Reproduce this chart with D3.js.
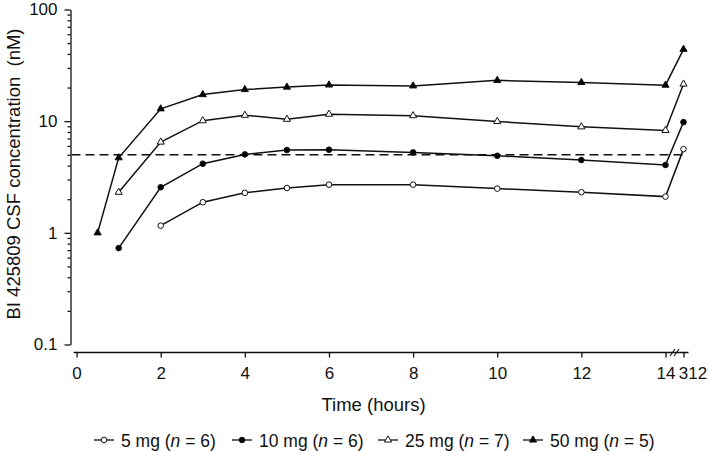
<!DOCTYPE html>
<html>
<head>
<meta charset="utf-8">
<script src="https://cdn.jsdelivr.net/npm/d3@7"></script>
<style>
  html, body { margin: 0; padding: 0; background: #fff; }
  svg { display: block; font-family: "Liberation Sans", Arial, sans-serif; }
</style>
</head>
<body>
<svg id="chart" width="709" height="451"></svg>
<script>
// ---- data ----
const xTickValues = [0, 2, 4, 6, 8, 10, 12, 14, 312];
const yTickValues = [0.1, 1, 10, 100];
const yTickLabels = ["0.1", "1", "10", "100"];
const threshold = 5;

const times5  = [2, 3, 4, 5, 6, 8, 10, 12, 14, 312];
const conc5   = [1.16, 1.88, 2.28, 2.52, 2.70, 2.70, 2.49, 2.31, 2.11, 5.62];
const times10 = [1, 2, 3, 4, 5, 6, 8, 10, 12, 14, 312];
const conc10  = [0.73, 2.56, 4.16, 5.04, 5.51, 5.55, 5.25, 4.90, 4.49, 4.05, 9.8];
const times25 = [1, 2, 3, 4, 5, 6, 8, 10, 12, 14, 312];
const conc25  = [2.31, 6.5, 10.1, 11.3, 10.4, 11.55, 11.2, 9.94, 8.9, 8.26, 21.5];
const times50 = [0.5, 1, 2, 3, 4, 5, 6, 8, 10, 12, 14, 312];
const conc50  = [1.0, 4.7, 12.9, 17.3, 19.2, 20.2, 21.1, 20.7, 23.2, 22.2, 21.0, 44];

const seriesNames = ["5 mg", "10 mg", "25 mg", "50 mg"];
const seriesN = [6, 6, 7, 5];

const series = [
  { name: seriesNames[0], n: seriesN[0], t: times5,  v: conc5,  shape: "circle",   fill: "#fff" },
  { name: seriesNames[1], n: seriesN[1], t: times10, v: conc10, shape: "circle",   fill: "#000" },
  { name: seriesNames[2], n: seriesN[2], t: times25, v: conc25, shape: "triangle", fill: "#fff" },
  { name: seriesNames[3], n: seriesN[3], t: times50, v: conc50, shape: "triangle", fill: "#000" }
];

// ---- scales ----
const svg = d3.select("#chart");
const x = d3.scaleLinear().domain([0, 14, 312]).range([76.6, 665.5, 683.5]);
const y = d3.scaleLog().domain([0.1, 100]).range([344.5, 9.5]);
const yAxisX = 70.5, xAxisY = 352.5;
const ink = "#111";

// ---- y axis ----
const minorTicks = [];
[0.1, 1, 10].forEach(d => { for (let k = 2; k <= 9; k++) minorTicks.push(+(d * k).toPrecision(3)); });

const yMinor = svg.append("g").attr("transform", `translate(${yAxisX},0)`)
  .call(d3.axisLeft(y).tickValues(minorTicks).tickSize(3).tickFormat(""));
yMinor.select(".domain").remove();

const yAx = svg.append("g").attr("transform", `translate(${yAxisX},0)`)
  .call(d3.axisLeft(y).tickValues(yTickValues).tickSize(6).tickSizeOuter(0)
        .tickFormat((d, i) => yTickLabels[i]));
yAx.selectAll("text").attr("font-size", 17).attr("fill", ink).attr("x", -13);
svg.selectAll("g .domain, g .tick line").attr("stroke", ink).attr("stroke-width", 1.3);

// ---- x axis ----
const xAx = svg.append("g").attr("transform", `translate(0,${xAxisY})`)
  .call(d3.axisBottom(x).tickValues(xTickValues).tickSize(5).tickSizeOuter(0).tickFormat(d3.format("d")));
xAx.select(".domain").remove();
xAx.append("line").attr("x1", x(0) - 3).attr("x2", x(312) + 5).attr("y1", 0).attr("y2", 0)
  .attr("stroke", ink).attr("stroke-width", 1.3);
xAx.selectAll(".tick line").attr("stroke", ink).attr("stroke-width", 1.3);
xAx.selectAll(".tick text").attr("font-size", 17).attr("fill", ink).attr("y", 26).attr("dy", null)
  .attr("dx", d => d === 312 ? 9 : 0);

// axis break marks
const bx = (x(14) + x(312)) / 2;
[-2, 2].forEach(off => {
  svg.append("line")
    .attr("x1", bx + off - 2.5).attr("y1", xAxisY + 3.5)
    .attr("x2", bx + off + 2.5).attr("y2", xAxisY - 3.5)
    .attr("stroke", ink).attr("stroke-width", 1.1);
});

// ---- threshold dashed line ----
svg.append("line")
  .attr("x1", yAxisX + 1).attr("x2", x(312) + 4)
  .attr("y1", y(threshold)).attr("y2", y(threshold))
  .attr("stroke", ink).attr("stroke-width", 1.4).attr("stroke-dasharray", "9,5");

// ---- series ----
const line = d3.line().x(d => x(d[0])).y(d => y(d[1]));
const triangle = d3.symbol().type(d3.symbolTriangle).size(22);

function drawMarker(g, shape, fill, cx, cy) {
  if (shape === "circle") {
    g.append("circle").attr("cx", cx).attr("cy", cy).attr("r", 2.8)
      .attr("fill", fill).attr("stroke", ink).attr("stroke-width", 1);
  } else {
    g.append("path").attr("d", triangle()).attr("transform", `translate(${cx},${cy})`)
      .attr("fill", fill).attr("stroke", ink).attr("stroke-width", 1);
  }
}

series.forEach(s => {
  const pts = s.t.map((t, i) => [t, s.v[i]]);
  const g = svg.append("g");
  g.append("path").attr("d", line(pts)).attr("fill", "none")
    .attr("stroke", ink).attr("stroke-width", 1.5);
  pts.forEach(p => drawMarker(g, s.shape, s.fill, x(p[0]), y(p[1])));
});

// ---- axis titles ----
svg.append("text").attr("x", 373.5).attr("y", 411).attr("text-anchor", "middle")
  .attr("font-size", 18.5).attr("fill", ink).text("Time (hours)");
svg.append("text").attr("transform", "translate(20,174) rotate(-90)").attr("text-anchor", "middle")
  .attr("font-size", 18.5).attr("fill", ink).attr("xml:space", "preserve")
  .text("BI 425809 CSF concentration  (nM)");

// ---- legend ----
const legendX = [94, 232, 378, 523];
series.forEach((s, i) => {
  const g = svg.append("g").attr("transform", `translate(${legendX[i]},440)`);
  g.append("line").attr("x1", 0).attr("x2", 20).attr("y1", 0).attr("y2", 0)
    .attr("stroke", ink).attr("stroke-width", 1.3);
  drawMarker(g, s.shape, s.fill, 10, 0);
  const t = g.append("text").attr("x", 27).attr("y", 6.5).attr("font-size", 17.5).attr("fill", ink)
    .attr("xml:space", "preserve");
  t.append("tspan").text(`${s.name} (`);
  t.append("tspan").attr("font-style", "italic").text("n");
  t.append("tspan").text(` = ${s.n})`);
});
</script>
</body>
</html>
